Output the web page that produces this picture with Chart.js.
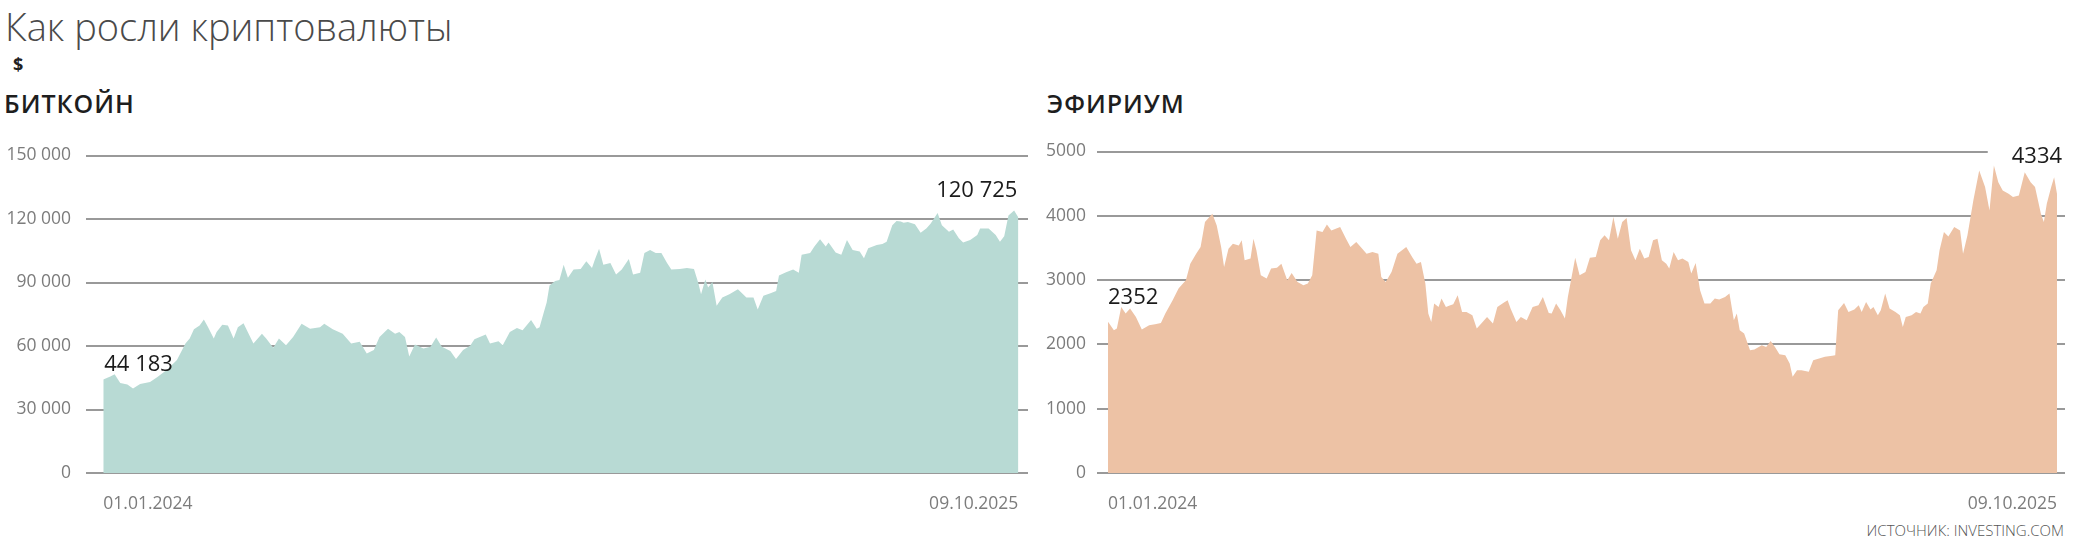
<!DOCTYPE html>
<html lang="ru">
<head>
<meta charset="utf-8">
<title>Как росли криптовалюты</title>
<script src="https://cdn.jsdelivr.net/npm/chart.js@4.4.1/dist/chart.umd.min.js"></script>
<style>
  html, body { margin: 0; padding: 0; background: #fff; }
  body { width: 2073px; height: 546px; position: relative; overflow: hidden; font-family: "Open Sans", sans-serif; }
  .title { position: absolute; left: 5px; top: 7px; font-size: 38px; font-weight: 300; line-height: 1; color: #4a4a4a; white-space: nowrap; }
  .unit { position: absolute; left: 13px; top: 55px; font-size: 18px; font-weight: 700; line-height: 1; color: #222; }
  .name { position: absolute; top: 91px; font-size: 25px; font-weight: 600; line-height: 1; letter-spacing: 1px; color: #1e1e1e; }
  .source { position: absolute; right: 9px; top: 523px; font-size: 15px; font-weight: 300; line-height: 1; color: #555; white-space: nowrap; }
  canvas { position: absolute; top: 130px; }
</style>
</head>
<body>
<div class="title">Как росли криптовалюты</div>
<div class="unit">$</div>
<div class="name" style="left:4px">БИТКОЙН</div>
<div class="name" style="left:1047px">ЭФИРИУМ</div>
<canvas id="btc" width="1040" height="390" style="left:0"></canvas>
<canvas id="eth" width="1043" height="390" style="left:1030px"></canvas>
<div class="source">ИСТОЧНИК: INVESTING.COM</div>

<script>
// ─── Data (days since 01.01.2024, USD) ─────────────────────────────────────────
const xTickDays = [0, 646];
const xTickLabels = ["01.01.2024", "09.10.2025"];

const btcDays = [0,5,8,12,17,21,26,33,38,45,
  52,55,58,61,64,68,71,74,78,80,
  84,88,92,95,99,102,106,112,115,120,
  124,129,134,140,146,153,156,162,169,175,
  181,186,191,195,201,206,209,213,216,220,
  226,231,235,239,245,249,254,259,262,270,
  273,279,282,287,292,296,302,306,308,311,
  313,315,319,322,325,328,332,337,341,345,
  347,350,353,358,362,366,371,374,379,382,
  386,390,394,398,401,407,412,417,420,422,
  425,427,430,433,437,442,448,454,459,462,
  466,471,475,477,482,487,491,493,499,502,
  506,510,512,517,521,525,529,534,537,540,
  546,550,553,557,560,563,565,568,573,577,
  581,584,589,592,597,600,604,607,612,617,
  619,625,630,633,636,639,643,646];
const btcPrices = [44183,45600,46700,42500,41800,39900,42000,43000,45200,48800,
  53400,57300,61200,63500,67900,69700,72500,68900,63500,66600,
  70000,69700,63500,68900,70800,66600,61200,65800,63500,59200,
  63500,60400,64300,70500,68100,68900,70500,67900,65800,61200,
  62000,56500,58100,64300,68100,65800,66600,64300,55000,60700,
  58800,59600,64000,59600,57600,53900,58100,60100,63200,65400,
  61200,62300,60400,66600,68500,67400,72300,68100,68900,75900,
  80600,88600,90700,91200,98400,92200,96100,96400,100000,96900,
  100800,105900,98400,99200,93800,96100,101100,93800,94600,103900,
  105400,103900,103900,99200,96100,96400,96900,96400,89900,84400,
  91400,87600,90200,79000,82900,84400,86800,82900,82900,77200,
  83700,84900,86000,93300,94900,96100,94600,103100,103900,107000,
  110400,107000,108900,104200,103100,110100,105400,104700,101500,106200,
  107700,108200,109300,117100,119100,118800,118200,118600,117500,113500,
  115500,117800,122800,117000,114000,115000,110900,108900,110100,112400,
  115500,115500,112400,109300,111900,121700,124000,120725];
const btcTicks = [0, 30000, 60000, 90000, 120000, 150000];

const ethDays = [0,4,6,9,12,15,19,23,28,32,
  36,39,44,48,53,56,60,63,66,71,
  74,77,79,82,85,89,91,93,97,99,
  101,104,108,111,115,118,122,125,129,133,
  136,139,142,146,149,152,155,158,162,165,
  169,172,176,180,184,186,189,193,197,203,
  207,210,213,216,218,220,222,225,227,230,
  233,235,238,241,244,248,251,255,258,262,
  265,269,272,274,278,281,285,289,293,296,
  300,302,305,308,311,313,316,318,321,325,
  328,332,335,338,341,344,347,350,353,356,
  359,362,365,368,371,374,377,380,382,385,
  388,391,395,397,400,403,406,410,413,416,
  420,423,426,428,430,433,437,440,445,448,
  451,454,457,461,464,466,469,472,477,480,
  484,488,493,495,497,501,504,508,511,513,
  516,519,521,524,526,529,532,536,539,541,
  543,547,550,553,555,558,560,564,566,569,
  572,576,580,582,585,589,593,597,600,603,
  606,609,613,616,620,624,628,631,635,637,
  639,642,644,646];
const ethPrices = [2352,2220,2247,2582,2480,2557,2427,2231,2298,2314,
  2334,2480,2686,2868,2997,3256,3411,3514,3902,4033,
  3851,3514,3204,3489,3567,3540,3618,3307,3334,3645,
  3463,3075,3023,3179,3194,3256,2997,3110,2971,2919,
  2946,3075,3773,3747,3866,3773,3799,3825,3645,3514,
  3592,3514,3411,3437,3411,3049,2971,3126,3411,3514,
  3359,3256,3282,2946,2480,2350,2635,2582,2713,2582,
  2609,2624,2764,2505,2505,2453,2247,2350,2427,2324,
  2582,2645,2686,2557,2350,2427,2376,2582,2609,2738,
  2489,2480,2635,2531,2402,2738,3101,3349,3075,3126,
  3349,3359,3618,3696,3618,3980,3645,3902,3964,3463,
  3307,3489,3334,3359,3618,3645,3307,3256,3179,3437,
  3307,3334,3282,3101,3266,2842,2635,2635,2713,2697,
  2738,2790,2376,2480,2220,2169,1910,1921,1988,1961,
  2054,1961,1848,1832,1703,1496,1599,1599,1573,1755,
  1781,1806,1822,1832,2531,2645,2505,2542,2609,2505,
  2660,2542,2582,2453,2531,2790,2557,2505,2453,2272,
  2427,2453,2505,2480,2582,2635,2946,3152,3463,3747,
  3680,3825,3773,3411,3696,4239,4705,4446,4084,4783,
  4523,4394,4343,4291,4317,4679,4523,4446,4033,3902,
  4188,4446,4600,4334];
const ethTicks = [0, 1000, 2000, 3000, 4000, 5000];

// ─── Helpers ───────────────────────────────────────────────────────────────────
const spaced = v => String(v).replace(/\B(?=(\d{3})+(?!\d))/g, " ");
const plain = v => String(v);

Chart.defaults.font.family = "'Open Sans', sans-serif";

// first / last value written next to the curve
const endLabels = {
  id: "endLabels",
  afterDraw(chart, args, o) {
    const pts = chart.getDatasetMeta(0).data;
    const vals = chart.data.datasets[0].data;
    const ctx = chart.ctx;
    ctx.save();
    ctx.font = o.font;
    ctx.textBaseline = "alphabetic";
    [[0, o.first], [pts.length - 1, o.last]].forEach(([i, s]) => {
      const text = o.format(vals[i].y);
      const x = pts[i].x + s.dx;
      const y = pts[i].y + s.dy;
      ctx.textAlign = s.align;
      if (s.gap) {
        // break the gridline in front of the label
        const w = ctx.measureText(text).width;
        const left = s.align === "right" ? x - w : x;
        ctx.fillStyle = "#fff";
        ctx.fillRect(left - s.gap, y - 24, chart.chartArea.right - left + s.gap + 4, 20);
      }
      ctx.fillStyle = o.color;
      ctx.fillText(text, x, y);
    });
    ctx.restore();
  }
};

function makeChart(id, cfg) {
  const points = cfg.days.map((d, i) => ({ x: d, y: cfg.values[i] }));
  return new Chart(document.getElementById(id), {
    type: "line",
    data: {
      datasets: [{
        data: points,
        backgroundColor: cfg.fill,
        borderWidth: 0,
        pointRadius: 0,
        fill: "origin",
        tension: 0
      }]
    },
    plugins: [endLabels],
    options: {
      responsive: false,
      animation: false,
      devicePixelRatio: 1,
      events: [],
      layout: { padding: { top: 21, right: cfg.padRight, left: 0, bottom: 0 } },
      scales: {
        x: {
          type: "linear",
          min: cfg.xMin,
          max: cfg.xMax,
          afterFit: s => { s.height = 47; },
          afterBuildTicks: s => { s.ticks = xTickDays.map(v => ({ value: v })); },
          grid: { display: false },
          border: { display: false },
          ticks: {
            align: "inner",
            autoSkip: false,
            maxRotation: 0,
            padding: 13,
            color: "#7c7c7c",
            font: { size: 17.5, weight: 400 },
            callback: v => xTickLabels[xTickDays.indexOf(v)]
          }
        },
        y: {
          min: 0,
          max: cfg.ticks[cfg.ticks.length - 1],
          z: 1,
          afterFit: s => { s.width = cfg.axisWidth; },
          afterBuildTicks: s => { s.ticks = cfg.ticks.map(v => ({ value: v })); },
          grid: { color: "rgba(70,70,70,0.55)", lineWidth: 2, drawTicks: false },
          border: { display: false },
          ticks: {
            padding: cfg.tickPad,
            color: "#7c7c7c",
            font: { size: 17.5, weight: 400 },
            callback: v => cfg.format(v)
          }
        }
      },
      plugins: {
        legend: { display: false },
        tooltip: { enabled: false },
        endLabels: {
          font: "400 22px 'Open Sans', sans-serif",
          color: "#1b1b1b",
          format: cfg.format,
          first: cfg.first,
          last: cfg.last
        }
      }
    }
  });
}

// ─── Bitcoin ───────────────────────────────────────────────────────────────────
makeChart("btc", {
  days: btcDays,
  values: btcPrices,
  ticks: btcTicks,
  fill: "#b8dad4",
  format: spaced,
  xMin: -12.2,
  xMax: 652.8,
  padRight: 12,
  axisWidth: 86,
  tickPad: 15,
  first: { dx: 1, dy: -8, align: "left" },
  last: { dx: -1, dy: -20, align: "right" }
});

// ─── Ethereum ──────────────────────────────────────────────────────────────────
makeChart("eth", {
  days: ethDays,
  values: ethPrices,
  ticks: ethTicks,
  fill: "#edc2a5",
  format: plain,
  xMin: -7.5,
  xMax: 651.4,
  padRight: 8,
  axisWidth: 67,
  tickPad: 11,
  first: { dx: 0, dy: -18, align: "left" },
  last: { dx: 5, dy: -31, align: "right", gap: 24 }
});
</script>
</body>
</html>
